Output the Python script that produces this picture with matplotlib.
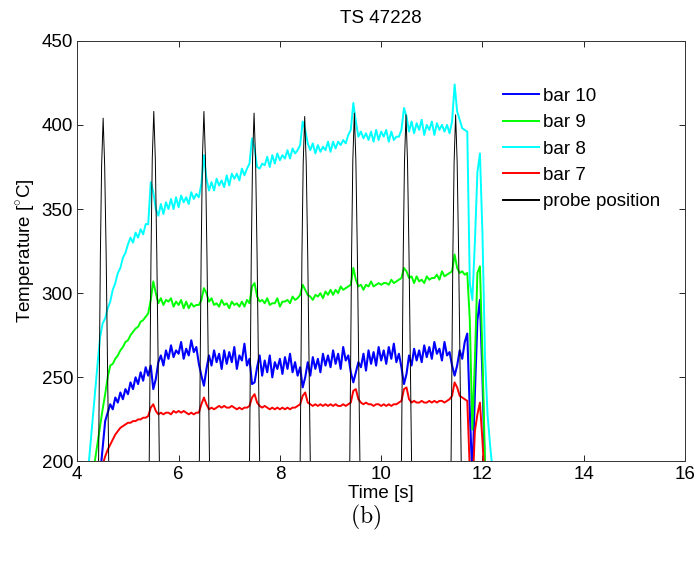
import matplotlib
matplotlib.use("Agg")
import matplotlib.pyplot as plt
import numpy as np

plt.rcParams['font.family'] = ['Liberation Sans', 'DejaVu Sans']
plt.rcParams['mathtext.fontset'] = 'custom'
plt.rcParams['mathtext.rm'] = 'Liberation Sans'

# sample grid of the thermocouple signals, 4.00 ... 12.25 s
time = np.round(np.arange(4.00, 12.26, 0.05), 2)

bar10 = [
    120, 130, 140, 150, 160, 168, 175, 181, 186, 192, 208, 224, 229, 234, 231, 238, 235, 241, 237, 243,
    240, 247, 243, 250, 246, 253, 248, 256, 251, 257, 243, 249, 259, 263, 257, 266, 261, 269, 262, 266,
    264, 271, 261, 267, 263, 272, 265, 268, 258, 251, 245, 255, 263, 257, 266, 259, 264, 255, 266, 258,
    265, 259, 268, 255, 263, 260, 270, 257, 261, 246, 247, 256, 263, 251, 260, 253, 263, 250, 259, 255,
    261, 252, 262, 255, 264, 253, 259, 251, 256, 244, 250, 259, 251, 262, 255, 261, 253, 264, 257, 263,
    256, 266, 258, 264, 255, 268, 260, 263, 253, 247, 253, 259, 256, 264, 254, 266, 258, 265, 257, 268,
    260, 266, 258, 268, 261, 270, 259, 264, 256, 246, 252, 263, 257, 267, 260, 266, 259, 269, 262, 268,
    261, 271, 264, 267, 260, 271, 263, 265, 257, 251, 257, 266, 261, 271, 276, 230, 190, 240, 284, 296,
    250, 190, 170, 160, 150, 140,
]

bar9 = [
    140, 150, 160, 170, 180, 187, 194, 201, 211, 221, 231, 240, 250, 257, 258, 261, 263, 266, 268, 271,
    272, 275, 277, 279, 280, 283, 284, 286, 288, 296, 307, 300, 294, 297, 293, 296, 295, 297, 292, 295,
    293, 296, 291, 295, 291, 294, 292, 293, 293, 296, 303, 300, 295, 297, 293, 294, 292, 296, 293, 294,
    291, 295, 293, 294, 292, 295, 292, 296, 294, 304, 306, 298, 295, 296, 294, 297, 293, 294, 294, 297,
    292, 295, 295, 296, 294, 298, 296, 297, 299, 305, 302, 299, 298, 296, 299, 298, 300, 297, 301, 299,
    302, 299, 302, 300, 304, 302, 303, 304, 305, 315, 308, 304, 305, 302, 305, 304, 307, 304, 305, 306,
    305, 306, 306, 305, 308, 306, 307, 308, 309, 315, 313, 309, 310, 306, 310, 307, 308, 306, 310, 308,
    309, 309, 311, 308, 313, 310, 311, 312, 313, 323, 315, 312, 313, 311, 312, 284, 219, 260, 312, 316,
    262, 200, 180, 170, 160, 150,
]

bar8 = [
    150, 160, 170, 180, 190, 207, 224, 241, 258, 274, 282, 285, 291, 295, 302, 306, 312, 315, 321, 324,
    329, 333, 330, 336, 333, 338, 335, 341, 341, 366, 360, 350, 346, 353, 347, 354, 350, 356, 350, 357,
    351, 358, 354, 357, 353, 360, 356, 359, 357, 365, 382, 368, 361, 366, 361, 368, 364, 367, 363, 370,
    364, 371, 368, 371, 367, 374, 370, 374, 377, 392, 386, 375, 374, 377, 376, 381, 375, 382, 377, 383,
    379, 382, 380, 385, 380, 386, 383, 385, 388, 402, 397, 389, 385, 389, 383, 388, 384, 387, 385, 390,
    384, 390, 386, 390, 388, 391, 389, 394, 397, 413, 402, 393, 396, 392, 395, 391, 396, 390, 397, 391,
    396, 393, 397, 390, 396, 391, 393, 393, 397, 410, 405, 396, 402, 395, 401, 397, 403, 394, 400, 397,
    402, 394, 401, 397, 400, 396, 400, 395, 402, 424, 408, 403, 398, 397, 396, 306, 296, 330, 372, 383,
    335, 262, 228, 210, 194, 180,
]

bar7 = [
    110, 120, 130, 140, 150, 158, 166, 174, 182, 190, 198, 203, 207, 210, 213, 216, 218, 220, 221, 222,
    223, 223, 224, 224, 225, 225, 226, 226, 227, 232, 234, 230, 228, 229, 228, 229, 229, 228, 230, 229,
    230, 229, 230, 229, 228, 229, 228, 229, 229, 234, 238, 234, 231, 232, 231, 232, 233, 232, 233, 232,
    232, 233, 232, 231, 232, 231, 232, 232, 233, 238, 240, 235, 233, 232, 233, 232, 231, 232, 231, 232,
    231, 232, 231, 232, 231, 232, 232, 233, 234, 239, 241, 235, 234, 233, 234, 233, 234, 233, 234, 233,
    234, 233, 234, 233, 233, 234, 233, 234, 235, 242, 243, 237, 235, 234, 235, 234, 234, 233, 234, 234,
    233, 234, 233, 234, 233, 234, 234, 235, 236, 243, 244, 237, 235, 236, 235, 235, 236, 235, 235, 236,
    235, 236, 235, 236, 236, 235, 236, 237, 239, 247, 244, 239, 238, 237, 236, 195, 180, 218, 228, 235,
    212, 185, 170, 160, 150, 140,
]

probe_t = [
    4.00,
    4.38, 4.42, 4.455, 4.48, 4.51, 4.54, 4.57, 4.62, 4.66,
    5.38, 5.42, 5.455, 5.48, 5.51, 5.54, 5.57, 5.62, 5.66,
    6.37, 6.41, 6.445, 6.47, 6.50, 6.53, 6.56, 6.61, 6.65,
    7.36, 7.40, 7.435, 7.46, 7.49, 7.52, 7.55, 7.60, 7.64,
    8.36, 8.40, 8.435, 8.46, 8.49, 8.52, 8.55, 8.60, 8.64,
    9.34, 9.38, 9.415, 9.44, 9.47, 9.50, 9.53, 9.58, 9.62,
    10.36, 10.40, 10.435, 10.46, 10.49, 10.52, 10.55, 10.60, 10.64,
    11.34, 11.38, 11.415, 11.44, 11.47, 11.50, 11.53, 11.58, 11.62,
    16.00,
]
probe_T = [
    90,
    90, 200, 322, 376, 404, 376, 322, 200, 90,
    90, 200, 322, 380, 408, 380, 322, 200, 90,
    90, 200, 322, 380, 408, 380, 322, 200, 90,
    90, 200, 322, 379, 407, 379, 322, 200, 90,
    90, 200, 322, 377, 405, 377, 322, 200, 90,
    90, 200, 322, 379, 407, 379, 322, 200, 90,
    90, 200, 322, 378, 406, 378, 322, 200, 90,
    90, 200, 322, 378, 406, 378, 322, 200, 90,
    90,
]

fs = 13.5

fig = plt.figure(figsize=(6.94, 5.61), dpi=100)
ax = fig.add_axes([0.1114, 0.1774, 0.8757, 0.750])

ax.plot(time, bar10, color='#0000ff', lw=1.5, label='bar 10')
ax.plot(time, bar9, color='#00ff00', lw=1.4, label='bar 9')
ax.plot(time, bar8, color='#00ffff', lw=1.4, label='bar 8')
ax.plot(time, bar7, color='#ff0000', lw=1.4, label='bar 7')
ax.plot(probe_t, probe_T, color='black', lw=0.7, label='probe position')

ax.set_xlim(4, 16)
ax.set_ylim(200, 450)
ax.set_xticks(np.arange(4, 17, 2))
ax.set_yticks(np.arange(200, 451, 50))
ax.tick_params(direction='in', length=4.5, width=0.6, top=True, right=True,
               labelsize=fs, pad=3)
for s in ax.spines.values():
    s.set_linewidth(0.7)
    s.set_color('#333333')

ax.set_title('TS 47228', fontsize=fs, pad=12.5)
ax.set_xlabel('Time [s]', fontsize=fs, labelpad=2)
ax.set_ylabel(r'Temperature [$^{\circ}$C]', fontsize=fs, labelpad=3)

leg = ax.legend(loc='upper left', bbox_to_anchor=(0.700, 0.888), frameon=False,
                fontsize=fs, handlelength=1.95, handletextpad=0.21,
                labelspacing=0.49, borderpad=0, borderaxespad=0)
for h in leg.get_lines():
    h.set_linewidth(1.4)

fig.text(0.527, 0.078, r'$\mathrm{(b)}$', ha='center', va='center', fontsize=17,
         math_fontfamily='cm')

fig.savefig('out.png', dpi=100)
